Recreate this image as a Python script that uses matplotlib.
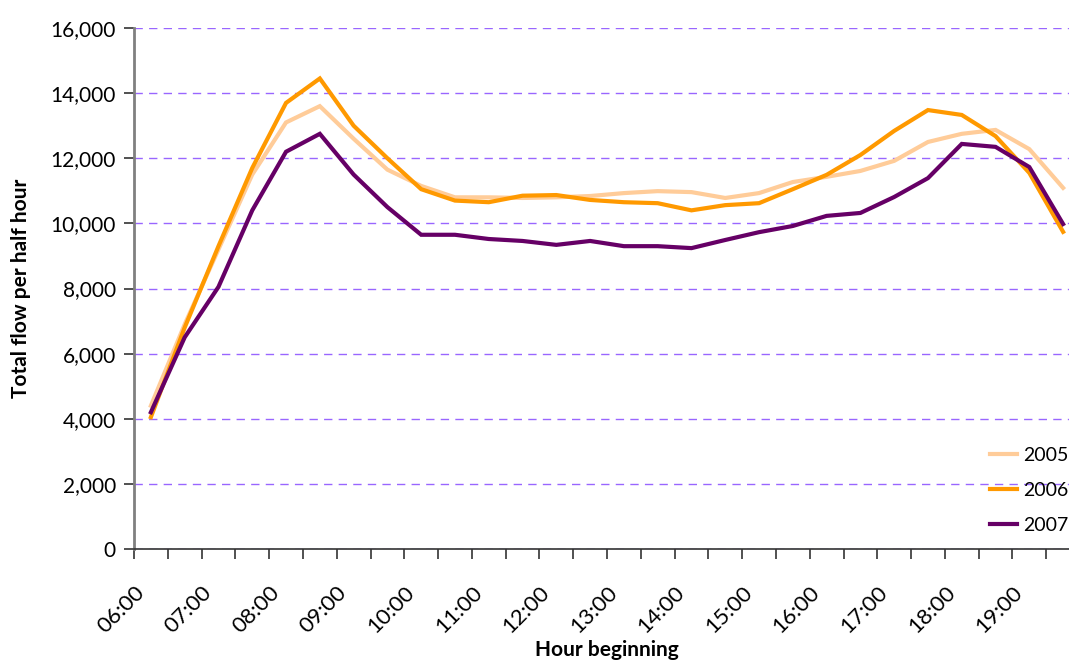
import matplotlib.pyplot as plt
import numpy as np

plt.rcParams['font.family'] = ['Lato', 'DejaVu Sans']

# half-hour slots starting 06:00 ... 19:30
slots = [f"{h:02d}:{m:02d}" for h in range(6, 20) for m in (0, 30)]
hour_labels = [f"{h:02d}:00" for h in range(6, 20)]

flow_2005 = [4400, 6900, 9200, 11500, 13100, 13600, 12600, 11650, 11150, 10800,
             10800, 10780, 10800, 10840, 10930, 10990, 10960, 10780, 10930, 11270,
             11430, 11610, 11920, 12500, 12750, 12870, 12280, 11090]
flow_2006 = [4050, 6800, 9300, 11700, 13700, 14450, 13000, 12000, 11050, 10700,
             10650, 10850, 10870, 10720, 10650, 10620, 10400, 10560, 10620, 11050,
             11490, 12100, 12840, 13480, 13330, 12680, 11550, 9740]
flow_2007 = [4200, 6500, 8050, 10400, 12200, 12750, 11500, 10500, 9650, 9650,
             9520, 9460, 9340, 9460, 9300, 9300, 9240, 9490, 9730, 9920,
             10230, 10320, 10810, 11390, 12440, 12350, 11730, 9980]

series = [("2005", flow_2005, "#FFCC99"),
          ("2006", flow_2006, "#FF9900"),
          ("2007", flow_2007, "#660066")]

fig = plt.figure(figsize=(10.69, 6.62), dpi=100)
ax = fig.add_axes([134 / 1069, 113 / 662, 946 / 1069, 521 / 662])

x = np.arange(len(slots)) + 0.5
for name, vals, col in series:
    ax.plot(x, vals, color=col, lw=3, label=name, solid_joinstyle='miter')

ax.set_xlim(0, len(slots))
ax.set_ylim(0, 16000)
ax.set_yticks(np.arange(0, 16001, 2000))
ax.set_yticklabels([f"{v:,}" for v in range(0, 16001, 2000)], fontsize=15)
ax.yaxis.grid(True, color="#9966FF", ls=(0, (6, 4.5)), lw=1)
ax.set_axisbelow(True)

ax.set_xticks(np.arange(0, len(slots), 2))
ax.set_xticklabels(hour_labels, rotation=45, ha='right', rotation_mode='anchor', fontsize=16)
ax.set_xticks(np.arange(1, len(slots) + 1, 2), minor=True)
ax.tick_params(axis='x', which='both', length=7, width=1.2, color="#333333", pad=17)
ax.tick_params(axis='y', length=7, width=1.2, color="#333333", pad=6)

for s in ("top", "right"):
    ax.spines[s].set_visible(False)
ax.spines["left"].set_color("#808080")
ax.spines["left"].set_linewidth(2)
ax.spines["bottom"].set_color("#333333")
ax.spines["bottom"].set_linewidth(1.2)

ax.set_ylabel("Total flow per half hour", fontsize=15, fontweight='bold', labelpad=14)
ax.set_xlabel("Hour beginning", fontsize=15, fontweight='bold', labelpad=2)

fig.legend(loc='lower left', bbox_to_anchor=(982 / 1069, 120 / 662), frameon=False,
           fontsize=14, handlelength=1.4, handletextpad=0.3, labelspacing=0.93,
           borderaxespad=0)

fig.savefig("out.png", dpi=100)
